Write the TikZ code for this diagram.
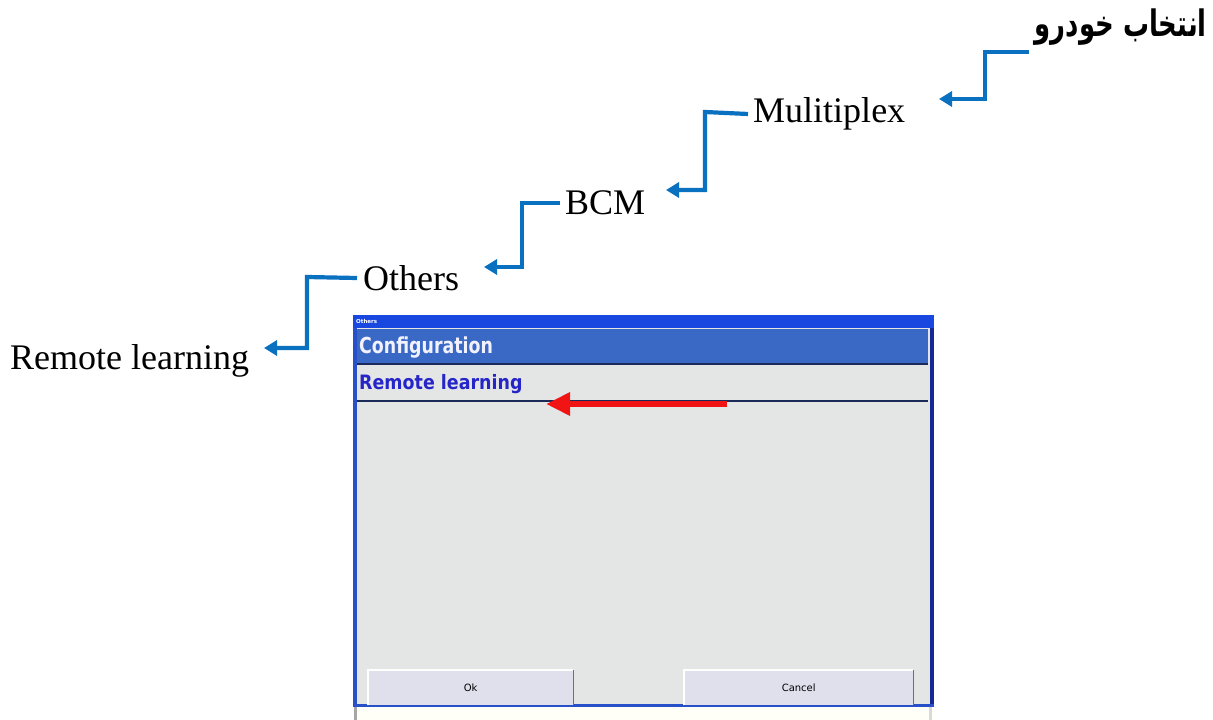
\documentclass[tikz,border=0pt]{standalone}
\usepackage{fontspec}
\setmainfont{Liberation Serif}
\newfontfamily\arabicfont[Script=Arabic]{DejaVu Sans}
\newfontfamily\uisans{DejaVu Sans}
\TeXXeTstate=1
\usetikzlibrary{arrows.meta}
\definecolor{stepblue}{RGB}{10,112,192}
\definecolor{titleblue}{RGB}{24,72,224}
\definecolor{framebluel}{RGB}{40,80,200}
\definecolor{framebluer}{RGB}{20,40,150}
\definecolor{headblue}{RGB}{58,104,197}
\definecolor{headline}{RGB}{28,42,90}
\definecolor{bodygray}{RGB}{228,230,230}
\definecolor{itemblue}{RGB}{38,38,200}
\definecolor{btnfill}{RGB}{223,224,236}
\definecolor{btnedge}{RGB}{110,110,115}
\definecolor{redarrow}{RGB}{240,20,20}
\tikzset{
  label36/.style={font=\fontsize{36}{40}\selectfont, inner sep=0pt},
  stepline/.style={draw=stepblue, line width=4.2, -{Triangle[width=15,length=13]}},
  btn/.style={fill=btnfill, draw=none},
}
\begin{document}
\begin{tikzpicture}[x=1pt,y=-1pt]
\useasboundingbox (0,0) rectangle (1213,720);
% labels
\node[anchor=east, inner sep=0pt] (car) at (1207,27) {\scalebox{0.96}[1.35]{\arabicfont\bfseries\fontsize{27}{30}\selectfont\beginR انتخاب خودرو\endR}};
\node[label36, anchor=west] (mux) at (753,114) {Mulitiplex};
\node[label36, anchor=west] (bcm) at (565,203) {BCM};
\node[label36, anchor=west] (oth) at (363,278) {Others};
\node[label36, anchor=west] (rem) at (10,361) {Remote learning};
% step arrows
\coordinate (s1) at (1029,52);
\coordinate (e1) at (939,99);
\coordinate (e2) at (666,190);
\coordinate (e3) at (484,267);
\coordinate (e4) at (264,348);
\draw[stepline] (s1) -- (985,52) -- (985,99) -- (e1);
\draw[stepline] (mux.west -| 748,112) -- (705,112) -- (705,190) -- (e2);
\draw[stepline] (bcm.west -| 560,203) -- (522,203) -- (522,267) -- (e3);
\draw[stepline] (oth.west -| 357,277) -- (307,277) -- (307,348) -- (e4);
% window
\fill[white!97!yellow] (353,707) rectangle (934,720);
\fill[gray!70] (354,707) rectangle (357,720);
\fill[gray!30] (929,707) rectangle (932,720);
\fill[titleblue] (353,315) rectangle (934,328);
\node[anchor=west, inner sep=0pt, text=white, font=\uisans\bfseries\fontsize{5.5}{6}\selectfont] (wtitle) at (356,321.5) {Others};
\fill[framebluel] (353,328) rectangle (357,707);
\fill[framebluer] (930,328) rectangle (934,707);
\fill[bodygray] (357,328) rectangle (930,704);
\fill[framebluel] (353,704) rectangle (934,707);
\fill[headblue] (357,329) rectangle (928,363);
\fill[headline] (357,363) rectangle (928,365);
\node[anchor=west, inner sep=0pt, text=white!95!blue] (conf) at (359,347.5) {\scalebox{0.87}[1.1]{\uisans\bfseries\fontsize{20}{22}\selectfont Configuration}};
\node[anchor=west, inner sep=0pt, text=itemblue] (item) at (359,384) {\scalebox{0.97}[1.1]{\uisans\bfseries\fontsize{18}{20}\selectfont Remote learning}};
\draw[headline, line width=2] (357,401) -- (928,401);
% buttons
\node[btn, minimum width=205, minimum height=35, anchor=north west, font=\uisans\fontsize{10}{12}\selectfont] (ok) at (368,670) {Ok};
\node[btn, minimum width=229, minimum height=35, anchor=north west, font=\uisans\fontsize{10}{12}\selectfont] (cancel) at (684,670) {Cancel};
\draw[white, line width=1.2] (ok.south west) |- (ok.north east);
\draw[btnedge, line width=1.2] (ok.north east) -- (ok.south east);
\draw[white, line width=1.2] (cancel.south west) |- (cancel.north east);
\draw[btnedge, line width=1.2] (cancel.north east) -- (cancel.south east);
% red arrow
\coordinate (r1) at (727,404);
\coordinate (r2) at (546,404);
\draw[redarrow, line width=6, -{Triangle[width=22,length=24]}] (r1) -- (r2);
\end{tikzpicture}
\end{document}
